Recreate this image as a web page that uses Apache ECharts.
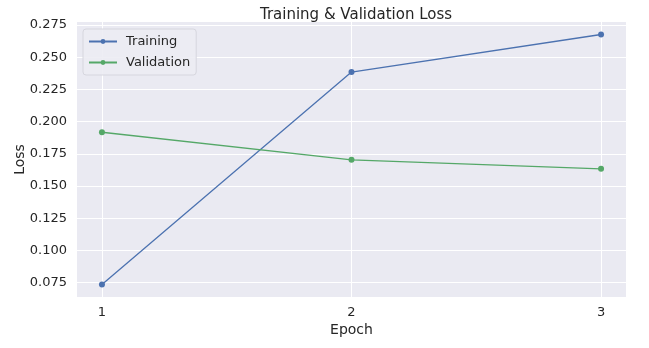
<!DOCTYPE html>
<html>
<head>
<meta charset="utf-8">
<script src="https://cdn.jsdelivr.net/npm/echarts@6/dist/echarts.min.js"></script>
<style>
  html, body { margin: 0; padding: 0; background: #ffffff; }
  #chart { width: 649px; height: 348px; }
</style>
</head>
<body>
<div id="chart"></div>
<script>
// Loss per epoch
const epochs = [1, 2, 3];
const trainingLoss = [0.0735, 0.2384, 0.2676];
const validationLoss = [0.1917, 0.1703, 0.1633];
const yTicks = [0.075, 0.100, 0.125, 0.150, 0.175, 0.200, 0.225, 0.250, 0.275];
const xTicks = [1, 2, 3];

const textColor = '#262626';
const font = 'DejaVu Sans';

const chart = echarts.init(document.getElementById('chart'), null, { renderer: 'canvas' });

const pairs = (xs, ys) => xs.map((x, i) => [x, ys[i]]);

chart.setOption({
  animation: false,
  backgroundColor: '#ffffff',
  title: {
    text: 'Training & Validation Loss',
    left: 351,
    textAlign: 'center',
    top: 3,
    textStyle: { fontFamily: font, fontSize: 15, fontWeight: 'normal', color: textColor }
  },
  legend: {
    orient: 'vertical',
    left: 83,
    top: 29,
    itemWidth: 28,
    itemHeight: 6,
    itemGap: 8,
    padding: [6, 6, 6, 5],
    backgroundColor: 'rgba(236,236,243,0.9)',
    borderColor: '#d6d6de',
    borderWidth: 1,
    borderRadius: 3,
    textStyle: { fontFamily: font, fontSize: 13, color: textColor, padding: [0, 0, 0, 4] },
    data: ['Training', 'Validation']
  },
  grid: {
    left: 77, right: 23, top: 22, bottom: 51,
    show: true,
    backgroundColor: '#eaeaf2',
    borderWidth: 0
  },
  xAxis: {
    type: 'value',
    min: 0.9,
    max: 3.1,
    name: 'Epoch',
    nameLocation: 'middle',
    nameGap: 26,
    nameMoveOverlap: false,
    nameTextStyle: { fontFamily: font, fontSize: 14, color: textColor },
    axisLine: { show: false },
    axisTick: { show: false, customValues: xTicks },
    axisLabel: {
      customValues: xTicks,
      fontFamily: font, fontSize: 13, color: textColor, margin: 9,
      formatter: v => String(v)
    },
    splitLine: { show: true, lineStyle: { color: '#ffffff', width: 1 } }
  },
  yAxis: {
    type: 'value',
    min: 0.0638,
    max: 0.2773,
    name: 'Loss',
    nameLocation: 'middle',
    nameGap: 50,
    nameMoveOverlap: false,
    nameTextStyle: { fontFamily: font, fontSize: 14, color: textColor },
    axisLine: { show: false },
    axisTick: { show: false, customValues: yTicks },
    axisLabel: {
      customValues: yTicks,
      fontFamily: font, fontSize: 13, color: textColor, margin: 10,
      formatter: v => v.toFixed(3)
    },
    splitLine: { show: true, lineStyle: { color: '#ffffff', width: 1 } }
  },
  series: [
    {
      name: 'Training',
      type: 'line',
      data: pairs(epochs, trainingLoss),
      symbol: 'circle',
      symbolSize: 6,
      color: '#4c72b0',
      lineStyle: { width: 1.3, color: '#4c72b0' },
      itemStyle: { color: '#4c72b0' }
    },
    {
      name: 'Validation',
      type: 'line',
      data: pairs(epochs, validationLoss),
      symbol: 'circle',
      symbolSize: 6,
      color: '#55a868',
      lineStyle: { width: 1.3, color: '#55a868' },
      itemStyle: { color: '#55a868' }
    }
  ]
});
</script>
</body>
</html>
